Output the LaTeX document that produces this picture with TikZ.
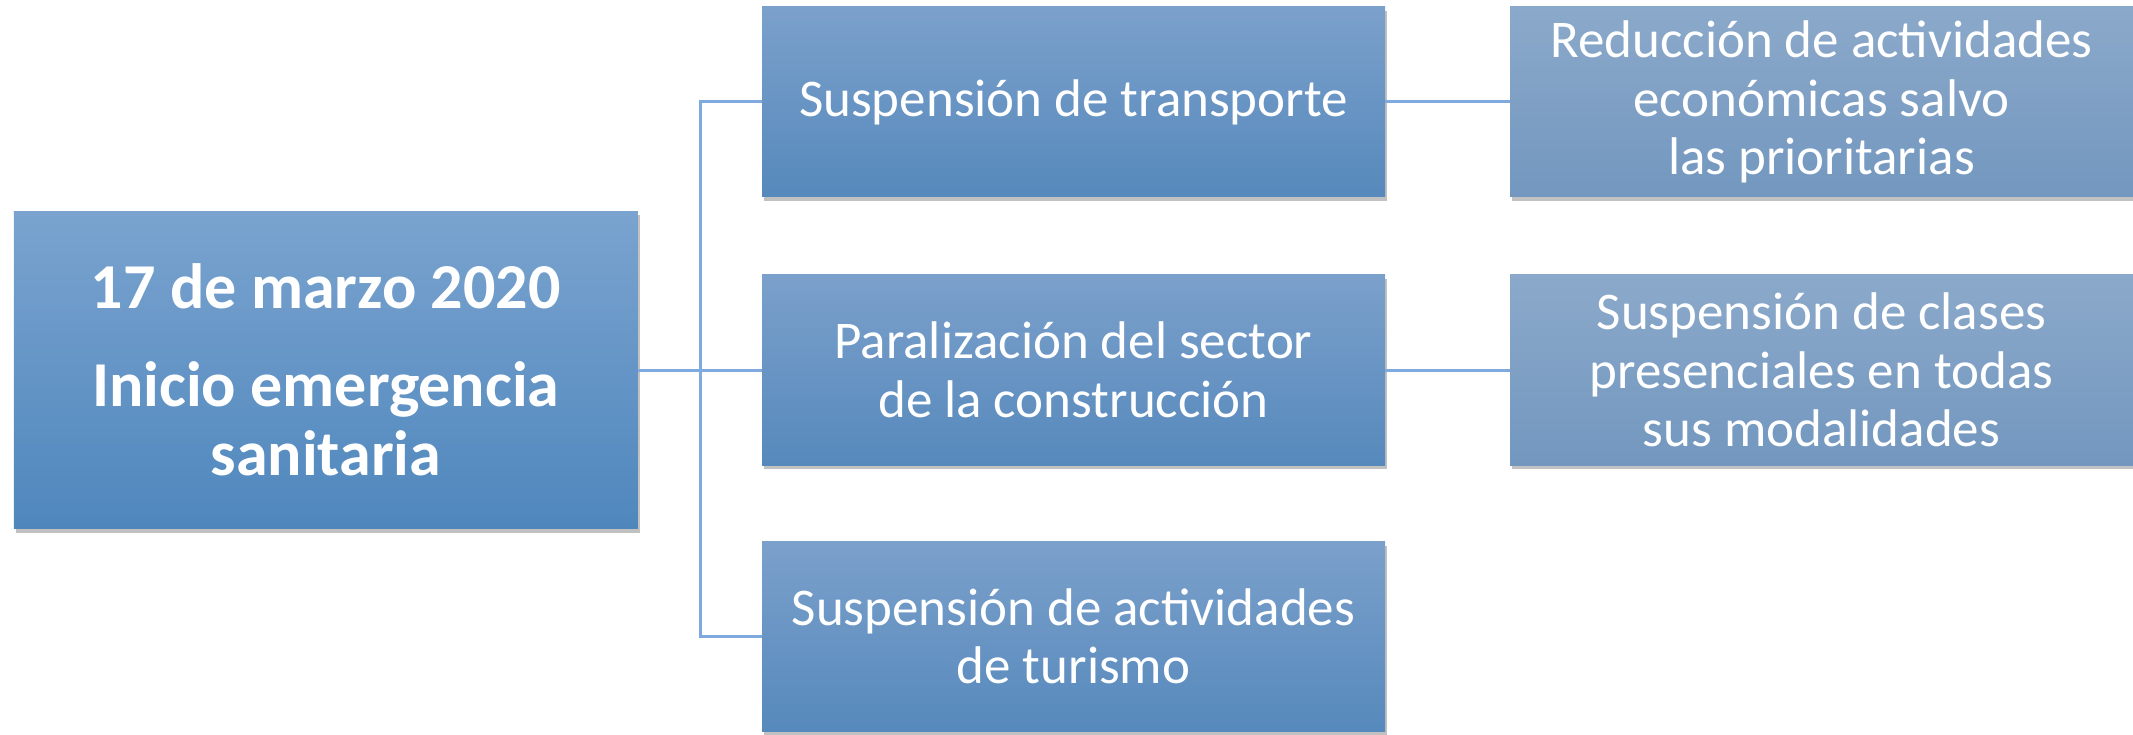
\documentclass[tikz,border=0pt]{standalone}
\usepackage{fontspec}
\setmainfont{Carlito}
\usetikzlibrary{shadows}
\definecolor{lTop}{HTML}{7AA3CF}
\definecolor{lBot}{HTML}{4F87BD}
\definecolor{mTop}{HTML}{7BA0CB}
\definecolor{mBot}{HTML}{5689BC}
\definecolor{rTop}{HTML}{8BA9CA}
\definecolor{rBot}{HTML}{7397BF}
\definecolor{linkc}{HTML}{7EAAE0}
\tikzset{
  box/.style={rectangle, draw=none, minimum width=623pt, minimum height=190pt,
    inner sep=0pt, align=center, text=white,
    font=\fontsize{53}{58.5}\selectfont,
    drop shadow={shadow xshift=2pt, shadow yshift=-4pt, opacity=0.35, fill=black!70}},
  midbox/.style={box, top color=mTop, bottom color=mBot},
  rightbox/.style={box, top color=rTop, bottom color=rBot},
  mainbox/.style={box, minimum width=624pt, minimum height=317pt, top color=lTop, bottom color=lBot,
    font=\fontsize{64}{69}\selectfont\bfseries},
  link/.style={draw=linkc, line width=3pt}
}
\begin{document}
\begin{tikzpicture}[x=1pt, y=-1pt]
\useasboundingbox (0,0) rectangle (2133,735);
\node[mainbox] (L) at (325.8,370) {17 de marzo 2020\\[29pt]Inicio emergencia\\sanitaria};
\node[midbox] (M1) at (1073.5,102) {Suspensión de transporte};
\node[midbox] (M2) at (1073.5,370) {Paralización del sector\\de la construcción};
\node[midbox] (M3) at (1073.5,636.5) {Suspensión de actividades\\de turismo};
\node[rightbox] (R1) at (1821.5,102) {Reducción de actividades\\económicas salvo\\las prioritarias};
\node[rightbox] (R2) at (1821.5,370) {Suspensión de clases\\presenciales en todas\\sus modalidades};
\coordinate (bus) at (700,370);
\draw[link] (L.east) -- (bus);
\draw[link] (M1.west) -| (bus);
\draw[link] (M3.west) -| (bus);
\draw[link] (bus) -- (M2.west);
\draw[link] (M1.east) -- (R1.west);
\draw[link] (M2.east) -- (R2.west);
\end{tikzpicture}
\end{document}
